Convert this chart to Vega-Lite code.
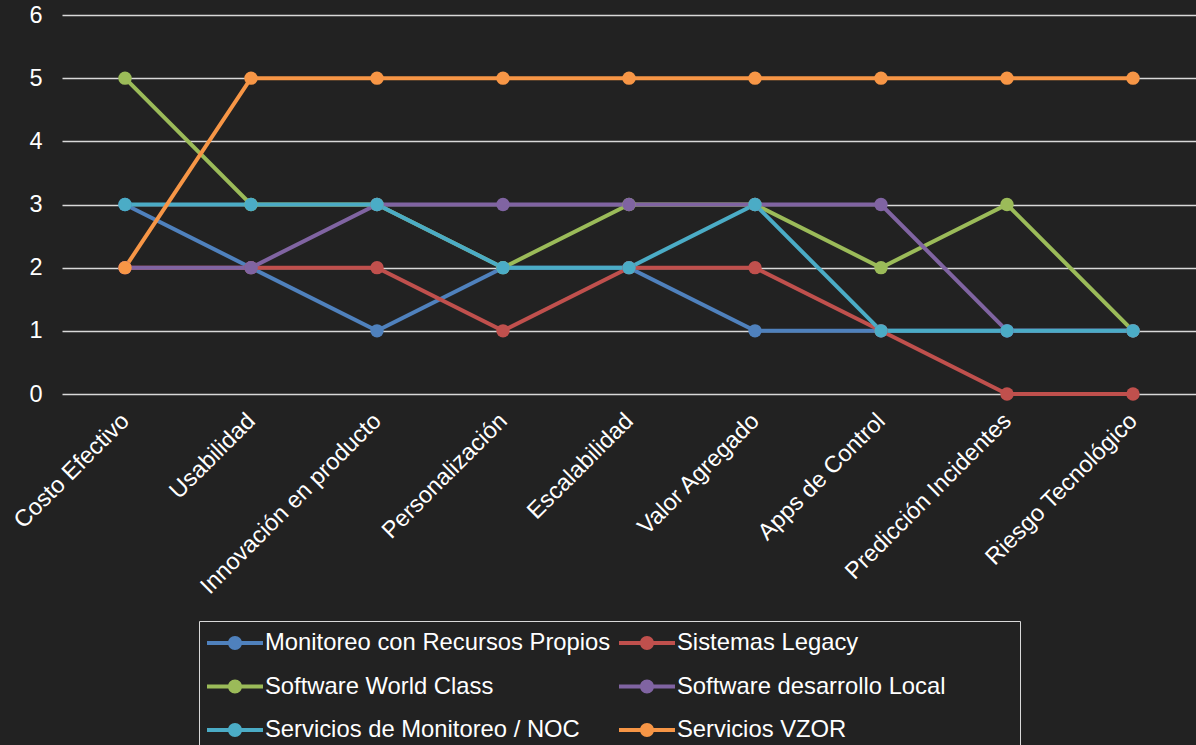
{
  "$schema": "https://vega.github.io/schema/vega-lite/v6.json",
  "width": 1134,
  "height": 379,
  "autosize": {"type": "none"},
  "padding": {"left": 62, "top": 15, "right": 0, "bottom": 351},
  "background": "#222222",
  "data": {
    "values": [
      {"serie": "Monitoreo con Recursos Propios", "criterio": "Costo Efectivo", "valor": 3},
      {"serie": "Monitoreo con Recursos Propios", "criterio": "Usabilidad", "valor": 2},
      {"serie": "Monitoreo con Recursos Propios", "criterio": "Innovación en producto", "valor": 1},
      {"serie": "Monitoreo con Recursos Propios", "criterio": "Personalización", "valor": 2},
      {"serie": "Monitoreo con Recursos Propios", "criterio": "Escalabilidad", "valor": 2},
      {"serie": "Monitoreo con Recursos Propios", "criterio": "Valor Agregado", "valor": 1},
      {"serie": "Monitoreo con Recursos Propios", "criterio": "Apps de Control", "valor": 1},
      {"serie": "Monitoreo con Recursos Propios", "criterio": "Predicción Incidentes", "valor": 1},
      {"serie": "Monitoreo con Recursos Propios", "criterio": "Riesgo Tecnológico", "valor": 1},
      {"serie": "Sistemas Legacy", "criterio": "Costo Efectivo", "valor": 2},
      {"serie": "Sistemas Legacy", "criterio": "Usabilidad", "valor": 2},
      {"serie": "Sistemas Legacy", "criterio": "Innovación en producto", "valor": 2},
      {"serie": "Sistemas Legacy", "criterio": "Personalización", "valor": 1},
      {"serie": "Sistemas Legacy", "criterio": "Escalabilidad", "valor": 2},
      {"serie": "Sistemas Legacy", "criterio": "Valor Agregado", "valor": 2},
      {"serie": "Sistemas Legacy", "criterio": "Apps de Control", "valor": 1},
      {"serie": "Sistemas Legacy", "criterio": "Predicción Incidentes", "valor": 0},
      {"serie": "Sistemas Legacy", "criterio": "Riesgo Tecnológico", "valor": 0},
      {"serie": "Software World Class", "criterio": "Costo Efectivo", "valor": 5},
      {"serie": "Software World Class", "criterio": "Usabilidad", "valor": 3},
      {"serie": "Software World Class", "criterio": "Innovación en producto", "valor": 3},
      {"serie": "Software World Class", "criterio": "Personalización", "valor": 2},
      {"serie": "Software World Class", "criterio": "Escalabilidad", "valor": 3},
      {"serie": "Software World Class", "criterio": "Valor Agregado", "valor": 3},
      {"serie": "Software World Class", "criterio": "Apps de Control", "valor": 2},
      {"serie": "Software World Class", "criterio": "Predicción Incidentes", "valor": 3},
      {"serie": "Software World Class", "criterio": "Riesgo Tecnológico", "valor": 1},
      {"serie": "Software desarrollo Local", "criterio": "Costo Efectivo", "valor": 2},
      {"serie": "Software desarrollo Local", "criterio": "Usabilidad", "valor": 2},
      {"serie": "Software desarrollo Local", "criterio": "Innovación en producto", "valor": 3},
      {"serie": "Software desarrollo Local", "criterio": "Personalización", "valor": 3},
      {"serie": "Software desarrollo Local", "criterio": "Escalabilidad", "valor": 3},
      {"serie": "Software desarrollo Local", "criterio": "Valor Agregado", "valor": 3},
      {"serie": "Software desarrollo Local", "criterio": "Apps de Control", "valor": 3},
      {"serie": "Software desarrollo Local", "criterio": "Predicción Incidentes", "valor": 1},
      {"serie": "Software desarrollo Local", "criterio": "Riesgo Tecnológico", "valor": 1},
      {"serie": "Servicios de Monitoreo / NOC", "criterio": "Costo Efectivo", "valor": 3},
      {"serie": "Servicios de Monitoreo / NOC", "criterio": "Usabilidad", "valor": 3},
      {"serie": "Servicios de Monitoreo / NOC", "criterio": "Innovación en producto", "valor": 3},
      {"serie": "Servicios de Monitoreo / NOC", "criterio": "Personalización", "valor": 2},
      {"serie": "Servicios de Monitoreo / NOC", "criterio": "Escalabilidad", "valor": 2},
      {"serie": "Servicios de Monitoreo / NOC", "criterio": "Valor Agregado", "valor": 3},
      {"serie": "Servicios de Monitoreo / NOC", "criterio": "Apps de Control", "valor": 1},
      {"serie": "Servicios de Monitoreo / NOC", "criterio": "Predicción Incidentes", "valor": 1},
      {"serie": "Servicios de Monitoreo / NOC", "criterio": "Riesgo Tecnológico", "valor": 1},
      {"serie": "Servicios VZOR", "criterio": "Costo Efectivo", "valor": 2},
      {"serie": "Servicios VZOR", "criterio": "Usabilidad", "valor": 5},
      {"serie": "Servicios VZOR", "criterio": "Innovación en producto", "valor": 5},
      {"serie": "Servicios VZOR", "criterio": "Personalización", "valor": 5},
      {"serie": "Servicios VZOR", "criterio": "Escalabilidad", "valor": 5},
      {"serie": "Servicios VZOR", "criterio": "Valor Agregado", "valor": 5},
      {"serie": "Servicios VZOR", "criterio": "Apps de Control", "valor": 5},
      {"serie": "Servicios VZOR", "criterio": "Predicción Incidentes", "valor": 5},
      {"serie": "Servicios VZOR", "criterio": "Riesgo Tecnológico", "valor": 5}
    ]
  },
  "mark": {"type": "line", "strokeWidth": 4, "point": {"filled": true, "size": 180, "opacity": 1}},
  "encoding": {
    "x": {
      "field": "criterio",
      "type": "nominal",
      "sort": null,
      "scale": {"type": "point", "padding": 0.5},
      "axis": {"title": null, "labelAngle": -45, "labelAlign": "right", "labelBaseline": "middle", "labelPadding": 23, "labelLimit": 0, "labelFontSize": 23.5, "grid": false}
    },
    "y": {
      "field": "valor",
      "type": "quantitative",
      "scale": {"domain": [0, 6], "nice": false, "zero": true},
      "axis": {"title": null, "values": [0, 1, 2, 3, 4, 5, 6], "grid": true, "gridColor": "#d9d9d9", "gridWidth": 1.5, "labelPadding": 20, "labelFontSize": 23.5}
    },
    "color": {
      "field": "serie",
      "type": "nominal",
      "sort": ["Monitoreo con Recursos Propios", "Sistemas Legacy", "Software World Class", "Software desarrollo Local", "Servicios de Monitoreo / NOC", "Servicios VZOR"],
      "scale": {
        "domain": ["Monitoreo con Recursos Propios", "Sistemas Legacy", "Software World Class", "Software desarrollo Local", "Servicios de Monitoreo / NOC", "Servicios VZOR"],
        "range": ["#4f81bd", "#c0504d", "#9bbb59", "#8064a2", "#4bacc6", "#f79646"]
      },
      "legend": {
        "title": null,
        "orient": "none",
        "legendX": 137,
        "legendY": 606,
        "direction": "horizontal",
        "columns": 2,
        "gridAlign": "all",
        "columnPadding": 8,
        "rowPadding": 17.5,
        "padding": 8,
        "strokeColor": "#d9d9d9",
        "fillColor": "#222222",
        "labelColor": "#ffffff",
        "labelFont": "Liberation Sans",
        "labelFontSize": 23.8,
        "labelOffset": 30,
        "labelLimit": 0,
        "labelExpr": "datum.label == 'Software desarrollo Local' ? datum.label + '\u00a0\u00a0\u00a0\u00a0\u00a0\u00a0\u00a0\u00a0\u00a0\u00a0\u200b' : datum.label",
        "symbolType": "M-1,-0.143L3,-0.143L3,0.143L-1,0.143Z M1.5,0A0.5,0.5 0 1 1 0.5,0A0.5,0.5 0 1 1 1.5,0Z",
        "symbolSize": 784,
        "symbolStrokeWidth": 0,
        "encode": {
          "symbols": {"update": {"fill": {"scale": "color", "field": "value"}, "stroke": {"value": "transparent"}, "opacity": {"value": 1}}}
        }
      }
    }
  },
  "config": {
    "view": {"stroke": null},
    "font": "Liberation Sans",
    "axis": {"labelColor": "#ffffff", "labelFont": "Liberation Sans", "labelFontSize": 22, "domain": false, "ticks": false}
  }
}
